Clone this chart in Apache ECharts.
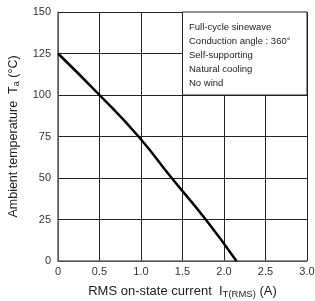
<!DOCTYPE html>
<html lang="en">

<head>
    <meta charset="UTF-8">
    <title>Derating</title>
    <style>
        html, body { margin: 0; padding: 0; background: #fff; }
        #app { width: 315px; height: 301px; }
    </style>
</head>

<body>
    <div id="app"></div>
</body>
<script src="https://cdn.jsdelivr.net/npm/echarts@6/dist/echarts.min.js"></script>
<script>
    var current = [0, 0.5, 0.97, 1.37, 1.78, 2.15];
    var temperature = [125, 100, 75, 50, 25, 0];
    var noteBox = [[1.5, 150], [3.0, 100]];
    var noteLines = ['Full-cycle sinewave', 'Conduction angle : 360°', 'Self-supporting', 'Natural cooling', 'No wind'];

    var chart = echarts.init(document.getElementById('app'));
    var font = 'Liberation Sans, Arial, sans-serif';

    var option = {
        animation: false,
        grid: { left: 58, right: 8, top: 12, bottom: 40, containLabel: false, outerBoundsMode: 'none' },
        xAxis: {
            type: 'value',
            min: 0,
            max: 3,
            interval: 0.5,
            name: 'RMS on-state current  I{sub|T(RMS)} (A)',
            nameLocation: 'middle',
            nameGap: 23,
            nameTextStyle: {
                fontFamily: font, fontSize: 13, color: '#222',
                rich: { sub: { fontFamily: font, fontSize: 9.5, color: '#222', padding: [5, 0, 0, 0] } }
            },
            axisLine: { show: true, lineStyle: { color: '#666', width: 1.5 } },
            axisTick: { show: false },
            axisLabel: {
                fontFamily: font, fontSize: 11, color: '#333', margin: 5,
                formatter: function (v) { return v === 0 ? '0' : v.toFixed(1); }
            },
            splitLine: { show: true, lineStyle: { color: '#222', width: 1 } }
        },
        yAxis: {
            type: 'value',
            min: 0,
            max: 150,
            interval: 25,
            name: 'Ambient temperature  T{sub|a} (°C)',
            nameLocation: 'middle',
            nameGap: 37,
            nameTextStyle: {
                fontFamily: font, fontSize: 12.5, color: '#222',
                rich: { sub: { fontFamily: font, fontSize: 9, color: '#222', padding: [5, 0, 0, 0] } }
            },
            axisLine: { show: true, lineStyle: { color: '#666', width: 1.5 } },
            axisTick: { show: false },
            axisLabel: { fontFamily: font, fontSize: 11, color: '#333', margin: 7 },
            splitLine: { show: true, lineStyle: { color: '#222', width: 1 } }
        },
        series: [{
            type: 'line',
            data: current.map(function (c, i) { return [c, temperature[i]]; }),
            smooth: 0.5,
            showSymbol: false,
            lineStyle: { color: '#000', width: 2.5 },
            markArea: {
                silent: true,
                itemStyle: { color: '#fff', borderColor: '#222', borderWidth: 1, opacity: 1 },
                label: {
                    show: true,
                    position: 'insideTopLeft',
                    distance: 0,
                    padding: [9, 0, 0, 7],
                    fontFamily: font,
                    fontSize: 9.5,
                    lineHeight: 14,
                    color: '#222',
                    formatter: noteLines.join('\n')
                },
                data: [[{ coord: noteBox[0] }, { coord: noteBox[1] }]]
            }
        }]
    };
    chart.setOption(option);
</script>

</html>
